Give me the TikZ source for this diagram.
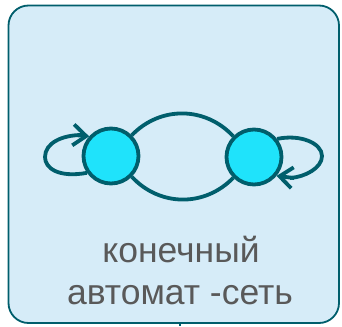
\documentclass[tikz,border=0pt]{standalone}
\usepackage{fontspec}
\setmainfont{Liberation Sans}
\usetikzlibrary{arrows.meta}
\definecolor{edge}{HTML}{005E6C}
\definecolor{panel}{HTML}{D6ECF8}
\definecolor{statefill}{HTML}{1FE3FB}
\definecolor{caption}{HTML}{595959}
\pgfdeclarelayer{panellayer}
\pgfdeclarelayer{edgelayer}
\pgfsetlayers{panellayer,edgelayer,main}
\tikzset{
  panelbox/.style={draw=edge, fill=panel, line width=1.8pt, rounded corners=20pt},
  state/.style={circle, draw=edge, fill=statefill, line width=3.8pt, minimum size=55pt, inner sep=0pt},
  trans/.style={draw=edge, line width=3.8pt},
  barb/.style={-{Straight Barb[length=13pt,width=21pt,line width=3.8pt]}},
  captiontext/.style={text=caption, font=\fontsize{35.5}{42}\selectfont, anchor=base, inner sep=0pt}
}
\begin{document}
\begin{tikzpicture}[x=1pt,y=-1pt]
  \useasboundingbox (0,0) rectangle (342,326);
  % states
  \node[state] (s1) at (111,156) {};
  \node[state] (s2) at (254,157) {};
  \begin{pgfonlayer}{panellayer}
    % small stub below the panel
    \coordinate (stubtop) at (180,318);
    \coordinate (stubbot) at (180,326);
    \draw[edge, line width=1.8pt] (stubtop) -- (stubbot);
    % panel
    \path[panelbox] (8.5,5.5) rectangle (339,323);
  \end{pgfonlayer}
  \begin{pgfonlayer}{edgelayer}
    % transitions between the two states
    \draw[trans] (s1.45) .. controls (160,106) and (205,106) .. (s2.135);
    \draw[trans] (s1.-45) .. controls (160,207) and (205,207) .. (s2.-135);
    % self loops
    \draw[trans] (s1.-145) .. controls (58,178) and (45,168) .. (45,157)
                 .. controls (45,143) and (62,135) .. (82,135);
    \draw[trans] (s2.38) .. controls (300,134) and (322,143) .. (322,156)
                 .. controls (322,168) and (305,177) .. (290,178);
  \end{pgfonlayer}
  \draw[trans, barb] (78,135.3) -- (s1.138);
  \draw[trans, barb] (294,178) -- (s2.-40);
  % caption
  \node[captiontext] (cap1) at (181,262) {конечный};
  \node[captiontext] (cap2) at (180,304) {автомат -сеть};
\end{tikzpicture}
\end{document}
